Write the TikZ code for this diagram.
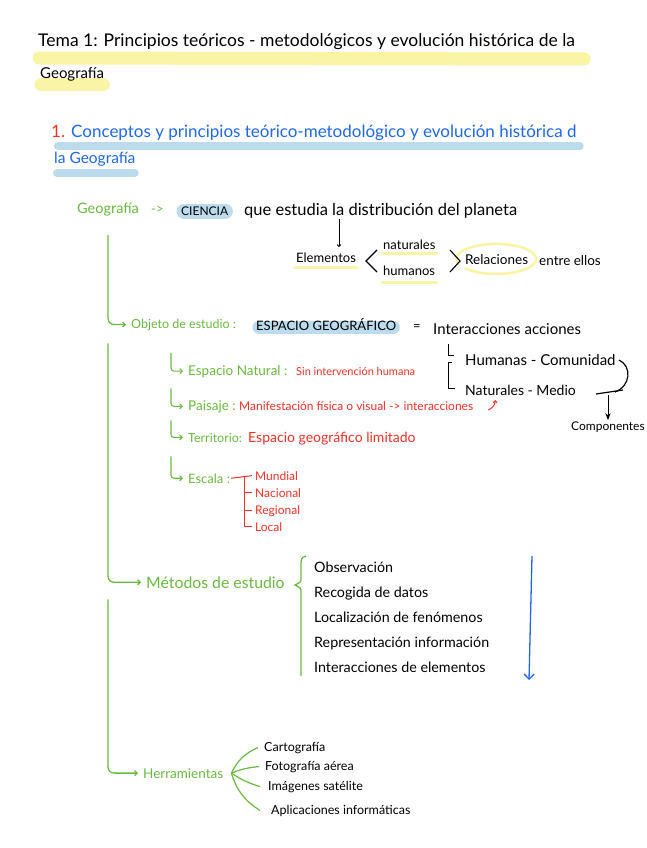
\documentclass[tikz,border=0pt]{standalone}
\usepackage{fontspec}
\setmainfont{Lato}
\usetikzlibrary{arrows.meta, backgrounds, calc}
\definecolor{hwgreen}{RGB}{106,186,64}
\definecolor{hwred}{RGB}{236,52,40}
\definecolor{hwblue}{RGB}{32,104,232}
\definecolor{hlyellow}{RGB}{250,245,165}
\definecolor{hlblue}{RGB}{188,219,237}
\newcommand{\fs}[1]{\fontsize{#1}{#1}\selectfont}

\begin{document}
\begin{tikzpicture}[x=1pt, y=-1pt, >=Stealth,
  every node/.style={anchor=base west, inner sep=1pt},
  gtxt/.style={text=hwgreen},
  rtxt/.style={text=hwred},
  trunk/.style={hwgreen, line width=1.3pt, rounded corners=6pt,
    -{Straight Barb[length=2.5pt,width=5pt]}, shorten >=4pt},
  subhook/.style={trunk, line width=1.1pt, rounded corners=3pt},
  redline/.style={hwred, line width=1pt},
  inkline/.style={black, line width=0.9pt},
  hly/.style={hlyellow, line width=#1, line cap=round},
  hlb/.style={hlblue, line width=#1, line cap=round}]
  \useasboundingbox (0,0) rectangle (646,848);

  % title
  \node[font=\fs{17.5}] (tema) at (37,47)
    {Tema 1: Principios teóricos - metodológicos y evolución histórica de la};
  \node[font=\fs{15}] (tema2) at (39,79) {Geografía};

  % section heading
  \node[rtxt, font=\fs{17}] (num) at (50,137) {1.};
  \node[text=hwblue, font=\fs{17}] (sec) at (70,137)
    {Conceptos y principios teórico-metodológico y evolución histórica d};
  \node[text=hwblue, font=\fs{15.5}] (sec2) at (53,163) {la Geografía};

  % Geografia -> ciencia
  \node[gtxt, font=\fs{14.5}] (geo) at (76,213) {Geografía};
  \node[gtxt, font=\fs{13}] (geoar) at (150,213) {->};
  \node[font=\fs{12}] (ciencia) at (180,215) {CIENCIA};
  \node[font=\fs{16.5}] (estudia) at (243,215)
    {que estudia la distribución del planeta};
  \coordinate (arrx) at (339,0);
  \node[font=\fs{13}] (elem) at (295,262) {Elementos};
  \node[font=\fs{13}] (natu) at (382,249) {naturales};
  \node[font=\fs{13}] (huma) at (382,275) {humanos};
  \node[font=\fs{13.5}] (rel) at (464,264) {Relaciones};
  \node[font=\fs{13.5}] (entre) at (538,265) {entre ellos};
  \draw[inkline, ->, >={Straight Barb[length=2pt,width=4pt]}]
    (estudia.south -| arrx) -- ([yshift=4pt]elem.north -| arrx);
  \draw[inkline, line width=1.1pt] (377,250) -- (366,261) -- (377,272);
  \draw[inkline, line width=1.1pt] (450,250) -- (460,261) -- (450,272);

  % objeto de estudio
  \node[gtxt, font=\fs{12.5}] (obj) at (130,328) {Objeto de estudio :};
  \node[font=\fs{13}] (esp) at (255,330) {ESPACIO GEOGRÁFICO};
  \node[font=\fs{13}] (eq) at (412,330) {=};
  \node[font=\fs{15}] (inter) at (432,334) {Interacciones acciones};
  \node[font=\fs{15}] (hum) at (464,365) {Humanas - Comunidad};
  \node[font=\fs{14}] (nat) at (464,395) {Naturales - Medio};
  \node[font=\fs{12}] (comp) at (570,430) {Componentes};
  \draw[inkline] (448,344) -- (448,355) -- (454,355);
  \draw[inkline] (452,362) -- (448,362) -- (448,388) -- (455,388);
  \draw[inkline, line width=1.2pt] (619,360) .. controls (632,366) and (631,386) .. (615,392);
  \draw[inkline, line width=1.2pt] (596,394) -- (623,390);
  \draw[inkline, ->] (comp.north |- nat.base) -- (comp.north);

  \node[gtxt, font=\fs{13.5}] (enat) at (187,375) {Espacio Natural :};
  \node[rtxt, font=\fs{11}] (sinint) at (295,375) {Sin intervención humana};
  \node[gtxt, font=\fs{13.5}] (pai) at (187,410) {Paisaje :};
  \node[rtxt, font=\fs{12}] (mani) at (238,410)
    {Manifestación física o visual -> interacciones};
  \draw[redline, -{Straight Barb[length=2pt,width=4pt]}]
    ([xshift=14pt]mani.base east) to[bend right=30] ++(7,-10);
  \node[gtxt, font=\fs{12.5}] (terr) at (187,442) {Territorio:};
  \node[rtxt, font=\fs{14}] (lim) at (247,442) {Espacio geográfico limitado};
  \node[gtxt, font=\fs{13}] (esc) at (187,483) {Escala :};
  \node[rtxt, font=\fs{12}] (mun) at (254,480) {Mundial};
  \node[rtxt, font=\fs{12}] (nac) at (254,497) {Nacional};
  \node[rtxt, font=\fs{12}] (reg) at (254,514) {Regional};
  \node[rtxt, font=\fs{12}] (loc) at (254,531) {Local};
  \coordinate (tr) at ([xshift=-10pt]mun.west);
  \draw[redline] (esc.east) -- ([xshift=-2pt]mun.west);
  \draw[redline] (tr) |- ([xshift=-2pt]loc.west);
  \draw[redline] (tr |- nac.west) -- ([xshift=-2pt]nac.west);
  \draw[redline] (tr |- reg.west) -- ([xshift=-2pt]reg.west);

  % metodos
  \node[gtxt, font=\fs{15.8}] (met) at (145,588) {Métodos de estudio};
  \node[font=\fs{14.3}] (m1) at (313,572) {Observación};
  \node[font=\fs{14.3}] (m2) at (313,597) {Recogida de datos};
  \node[font=\fs{14.3}] (m3) at (313,622) {Localización de fenómenos};
  \node[font=\fs{14.3}] (m4) at (313,647) {Representación información};
  \node[font=\fs{14.3}] (m5) at (313,672) {Interacciones de elementos};
  \draw[hwgreen, line width=1.3pt] (306,556) .. controls (301,558) .. (301,567)
    -- (301,578) .. controls (301,582) .. (295,585)
    .. controls (301,588) .. (301,593) -- (301,676);
  \coordinate (btop) at (532,556);
  \coordinate (bbot) at (529,680);
  \draw[hwblue, line width=1.3pt, -{Straight Barb[length=5pt,width=10pt]}] (btop) -- (bbot);

  % herramientas
  \node[gtxt, font=\fs{13.5}] (herr) at (142,778) {Herramientas};
  \node[font=\fs{12.5}] (car) at (263,751) {Cartografía};
  \node[font=\fs{12.5}] (foto) at (264,770) {Fotografía aérea};
  \node[font=\fs{12.5}] (ima) at (267,790) {Imágenes satélite};
  \node[font=\fs{12.5}] (apl) at (270,814) {Aplicaciones informáticas};
  \coordinate (fan) at ([xshift=7pt]herr.east);
  \draw[hwgreen, line width=1.2pt] (fan) to[bend left=20] ([xshift=-5pt]car.west);
  \draw[hwgreen, line width=1.2pt] (fan) to[bend left=8] ([xshift=-5pt]foto.west);
  \draw[hwgreen, line width=1.2pt] (fan) to[bend right=8] ([xshift=-7pt]ima.west);
  \draw[hwgreen, line width=1.2pt] (fan) to[bend right=20] ([xshift=-10pt]apl.west);

  % green trunks
  \draw[trunk] ([yshift=-18pt]geo.south) |- (obj.west);
  \draw[trunk] ([yshift=-12pt]geo.south |- obj.south) |- (met.west);
  \draw[trunk] ([yshift=-10pt]geo.south |- met.south) |- (herr.west);
  \draw[subhook] ([xshift=-16pt, yshift=18pt]enat.west) |- (enat.west);
  \draw[subhook] ([xshift=-16pt, yshift=18pt]pai.west) |- (pai.west);
  \draw[subhook] ([xshift=-16pt, yshift=17pt]terr.west) |- (terr.west);
  \draw[subhook] ([xshift=-16pt, yshift=22pt]esc.west) |- (esc.west);

  % highlights
  \begin{scope}[on background layer]
    \fill[white] (0,0) rectangle (646,848);
    \draw[hly=13pt] ([xshift=2pt,yshift=-11pt]tema.base west)
      -- ([xshift=8pt,yshift=-12pt]tema.base east);
    \draw[hly=13pt] ([xshift=2pt,yshift=-6pt]tema2.base west)
      -- ([xshift=-2pt,yshift=-6pt]tema2.base east);
    \draw[hlb=8pt] ([xshift=8pt,yshift=-9pt]num.base west)
      -- ([xshift=2pt,yshift=-9pt]sec.base east);
    \draw[hlb=8pt] ([xshift=4pt,yshift=-10pt]sec2.base west)
      -- ([xshift=-2pt,yshift=-10pt]sec2.base east);
    \draw[hlb=15pt] ([xshift=4pt,yshift=4pt]ciencia.base west)
      -- ([xshift=-4pt,yshift=4pt]ciencia.base east);
    \draw[hlb=13pt] ([xshift=4pt,yshift=3pt]esp.base west)
      -- ([xshift=-4pt,yshift=3pt]esp.base east);
    \draw[hly=3pt] ([yshift=-5pt]elem.base west) -- ([yshift=-5pt]elem.base east);
    \draw[hly=3pt] ([yshift=-4pt]natu.base west) -- ([yshift=-4pt]natu.base east);
    \draw[hly=3pt] ([yshift=-7pt]huma.base west) -- ([yshift=-7pt]huma.base east);
    \draw[hly=2.5pt] ($(rel.center)+(-38,5)$)
      arc[start angle=160, end angle=500, x radius=40, y radius=15];
  \end{scope}
\end{tikzpicture}
\end{document}
